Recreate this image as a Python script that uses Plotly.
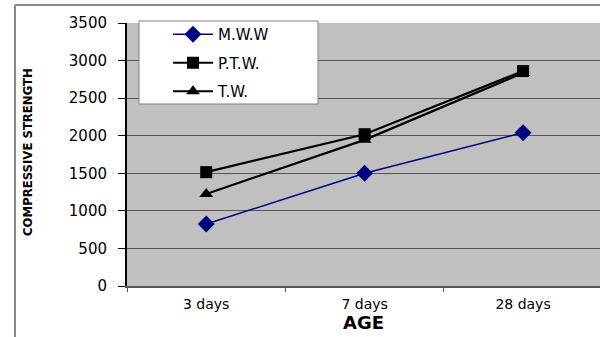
import plotly.graph_objects as go

# Compressive strength by curing age for three water types
ages = ["3 days", "7 days", "28 days"]
mww = [825, 1500, 2040]
ptw = [1515, 2020, 2860]
tw = [1225, 1945, 2835]
y_ticks = [0, 500, 1000, 1500, 2000, 2500, 3000, 3500]

W, H = 600, 337
L, R, T, B = 127, 0, 23, 51
pw = W - L - R
ph = H - T - B


def px_x(p):
    return (p - L) / pw


def px_y(p):
    return (H - B - p) / ph


fig = go.Figure()
fig.add_trace(go.Scatter(
    x=ages, y=mww, name="M.W.W", mode="lines+markers", legendgroup="a",
    line=dict(color="#00007f", width=1.5),
    marker=dict(symbol="diamond", size=13, color="#00007f"),
))
fig.add_trace(go.Scatter(
    x=ages, y=ptw, name="P.T.W.", mode="lines+markers", legendgroup="b",
    line=dict(color="#000000", width=2.2),
    marker=dict(symbol="square", size=12, color="#000000"),
))
fig.add_trace(go.Scatter(
    x=ages, y=tw, name="T.W.", mode="lines+markers", legendgroup="c",
    line=dict(color="#000000", width=2.2),
    marker=dict(symbol="triangle-up", size=12, color="#000000"),
))

font = "DejaVu Sans, Liberation Sans, sans-serif"

fig.update_layout(
    width=W, height=H,
    margin=dict(l=L, r=R, t=T, b=B, pad=0),
    paper_bgcolor="white",
    plot_bgcolor="#c0c0c0",
    font=dict(family=font, size=15, color="#000000"),
    showlegend=True,
    legend=dict(
        x=px_x(168), y=px_y(18), xanchor="left", yanchor="top",
        bgcolor="rgba(0,0,0,0)", borderwidth=0,
        font=dict(family=font, size=15, color="#000000"),
        itemwidth=40, tracegroupgap=6,
    ),
    xaxis=dict(
        type="category",
        range=[-0.5, (600 - 206) / 158.5],
        tickson="boundaries",
        ticks="outside", ticklen=4, tickcolor="#555555",
        showline=True, linecolor="#555555", linewidth=2,
        showgrid=False, zeroline=False,
        tickfont=dict(size=14),
        ticklabelstandoff=4,
        title=dict(text="<b>AGE</b>", font=dict(size=18), standoff=0),
    ),
    yaxis=dict(
        range=[0, 3500],
        tickvals=y_ticks,
        ticks="outside", ticklen=7, tickcolor="#000000",
        showline=True, linecolor="#000000", linewidth=2,
        showgrid=True, gridcolor="#555555", gridwidth=1,
        zeroline=False,
        tickfont=dict(size=15),
        ticklabelstandoff=8,
    ),
    shapes=[
        # legend frame
        dict(type="rect", xref="paper", yref="paper",
             x0=px_x(139), x1=px_x(318), y0=px_y(104), y1=px_y(21),
             fillcolor="white", line=dict(color="#808080", width=1),
             layer="above"),
        # chart frame
        dict(type="line", xref="paper", yref="paper",
             x0=px_x(15), x1=px_x(600), y0=px_y(5), y1=px_y(5),
             line=dict(color="#888888", width=2)),
        dict(type="line", xref="paper", yref="paper",
             x0=px_x(15), x1=px_x(15), y0=px_y(5), y1=px_y(337),
             line=dict(color="#888888", width=2)),
    ],
    annotations=[
        dict(text="<b>COMPRESSIVE STRENGTH</b>", xref="paper", yref="paper",
             x=px_x(27), y=px_y(152), textangle=-90, showarrow=False,
             font=dict(family="DejaVu Sans Condensed, Liberation Sans Narrow, sans-serif",
                       size=13, color="#000000"),
             xanchor="center", yanchor="middle"),
    ],
)

fig.write_html("out.html")
